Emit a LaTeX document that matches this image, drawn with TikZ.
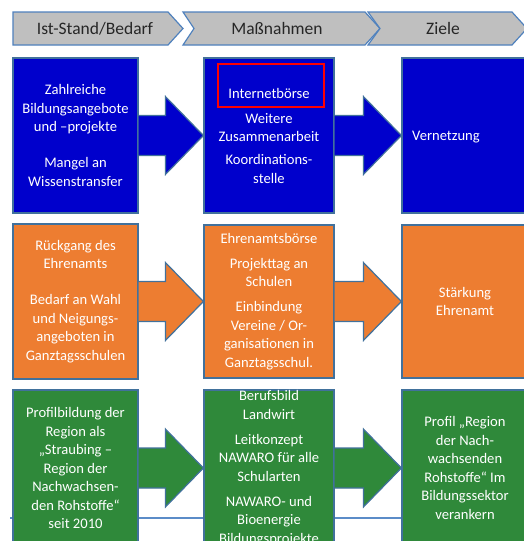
\documentclass[tikz,border=0pt]{standalone}
\usepackage{fontspec}
\setmainfont{Carlito}
\usetikzlibrary{calc}
\definecolor{boxblue}{RGB}{0,0,204}
\definecolor{boxorange}{RGB}{237,125,49}
\definecolor{boxgreen}{RGB}{47,137,58}
\definecolor{headgrey}{RGB}{191,191,191}
\definecolor{edgecol}{RGB}{65,113,156}
\definecolor{headedge}{RGB}{79,129,189}
\definecolor{linecol}{RGB}{91,140,200}
\definecolor{headtext}{RGB}{38,38,38}
\tikzset{
  cell/.style={draw=edgecol, line width=1.2pt, inner sep=0pt, text=white, align=center,
    font=\fontsize{14.6}{18.5}\selectfont, minimum width=125, minimum height=155},
  headbox/.style={fill=headgrey, draw=headedge, line width=1.2pt, line join=miter},
  headtxt/.style={text=headtext, font=\fontsize{17.5}{20}\selectfont, inner sep=0pt},
  arredge/.style={draw=edgecol, line width=1.2pt},
}
\newcommand\blockarr[3]{%
  \fill[#3] let \p1=(#1.east), \p2=(#2.west) in
    (\x1,\y1+20pt) -- (\x2-38pt,\y1+20pt) -- (\x2-38pt,\y1+39pt) -- (\x2,\y1)
    -- (\x2-38pt,\y1-39pt) -- (\x2-38pt,\y1-20pt) -- (\x1,\y1-20pt) -- cycle;
  \draw[arredge] let \p1=(#1.east), \p2=(#2.west) in
    (\x1,\y1+20pt) -- (\x2-38pt,\y1+20pt) -- (\x2-38pt,\y1+39pt) -- (\x2,\y1)
    -- (\x2-38pt,\y1-39pt) -- (\x2-38pt,\y1-20pt) -- (\x1,\y1-20pt);
}
\begin{document}
\begin{tikzpicture}[x=1pt,y=-1pt]
\useasboundingbox (0,0) rectangle (524,541);
\clip (0,0) rectangle (524,541);
\fill[white] (0,0) rectangle (524,541);

% header chevrons
\draw[headbox] (13,12) -- (168,12) -- (183,28.5) -- (168,45) -- (13,45) -- cycle;
\draw[headbox] (183,12) -- (365,12) -- (380,28.5) -- (365,45) -- (183,45) -- (194,28.5) -- cycle;
\draw[headbox] (368,12) -- (512,12) -- (527,28.5) -- (512,45) -- (368,45) -- (380,28.5) -- cycle;
\node[headtxt] (h1) at (95,28.5) {Ist-Stand/Bedarf};
\node[headtxt] (h2) at (277,28.5) {Maßnahmen};
\node[headtxt] (h3) at (443,28.5) {Ziele};

% background line
\coordinate (lineA) at (10,518);
\coordinate (lineB) at (530,518);
\draw[linecol, line width=2pt] (lineA) -- (lineB);

% blue row
\node[cell, fill=boxblue] (b1) at (75.5,135.5) {Zahlreiche\\Bildungsangebote\\und –projekte\\[17.5pt]Mangel an\\Wissenstransfer};
\node[cell, fill=boxblue, minimum width=130] (b2) at (269,135.5) {Internetbörse\\[6.5pt]Weitere\\Zusammenarbeit\\[4.5pt]Koordinations-\\stelle};
\node[cell, fill=boxblue, minimum width=126] (b3) at (465,135.5) {};
\node[text=white, font=\fontsize{14.6}{18.5}\selectfont, inner sep=0pt, anchor=west] (b3t) at (412,137) {Vernetzung};
\node[draw=red, line width=2.6pt, minimum width=106, minimum height=43, inner sep=0pt] (hl) at (271,85.5) {};
\blockarr{b1}{b2}{boxblue}
\blockarr{b2}{b3}{boxblue}

% orange row
\node[cell, fill=boxorange] (o1) at (75.5,301.5) {Rückgang des\\Ehrenamts\\[17.5pt]Bedarf an Wahl\\und Neigungs-\\angeboten in\\Ganztagsschulen};
\node[cell, fill=boxorange, minimum width=130, minimum height=153] (o2) at (269,301.5) {Ehrenamtsbörse\\[6.5pt]Projekttag an\\Schulen\\[6.5pt]Einbindung\\Vereine / Or-\\ganisationen in\\Ganztagsschul.};
\node[cell, fill=boxorange, minimum width=126, minimum height=153] (o3) at (465,301.5) {Stärkung\\Ehrenamt};
\blockarr{o1}{o2}{boxorange}
\blockarr{o2}{o3}{boxorange}

% green row
\node[cell, fill=boxgreen, minimum height=156] (g1) at (75.5,468) {Profilbildung der\\Region als\\„Straubing –\\Region der\\Nachwachsen-\\den Rohstoffe“\\seit 2010};
\node[cell, fill=boxgreen, minimum width=130, minimum height=156] (g2) at (269,468) {Berufsbild\\Landwirt\\[6.5pt]Leitkonzept\\NAWARO für alle\\Schularten\\[6.5pt]NAWARO- und\\Bioenergie\\Bildungsprojekte};
\node[cell, fill=boxgreen, minimum width=126, minimum height=156] (g3) at (465,468) {Profil „Region\\der Nach-\\wachsenden\\Rohstoffe“ Im\\Bildungssektor\\verankern};
\blockarr{g1}{g2}{boxgreen}
\blockarr{g2}{g3}{boxgreen}
\end{tikzpicture}
\end{document}
